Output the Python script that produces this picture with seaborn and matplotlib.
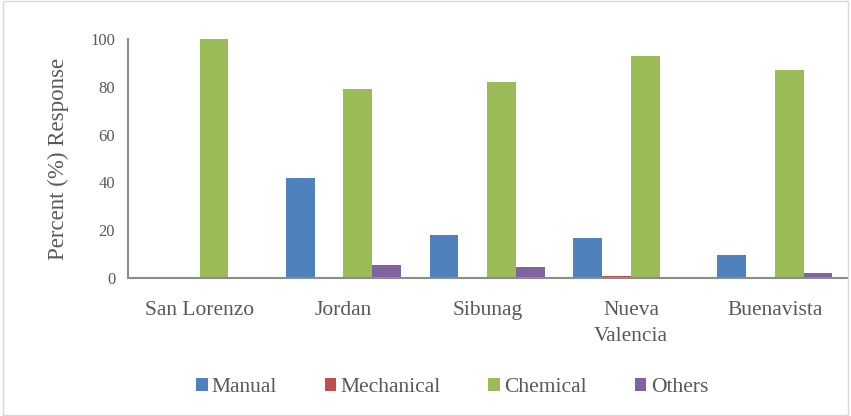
import matplotlib
matplotlib.use("Agg")
import matplotlib.pyplot as plt
import seaborn as sns
import pandas as pd

sites = ["San Lorenzo", "Jordan", "Sibunag", "Nueva\nValencia", "Buenavista"]
methods = ["Manual", "Mechanical", "Chemical", "Others"]
manual = [0, 42, 18, 16.5, 9.5]
mechanical = [0, 0, 0, 0.6, 0]
chemical = [100, 79, 82, 93, 87]
others = [0, 5.5, 4.5, 0, 2]
colors = ["#4F81BD", "#C0504D", "#9BBB59", "#8064A2"]

rows = []
for m, vals in zip(methods, [manual, mechanical, chemical, others]):
    for s, v in zip(sites, vals):
        rows.append({"Site": s, "Method": m, "Value": v})
df = pd.DataFrame(rows)

sns.set_theme(style="white")
plt.rcParams["font.family"] = ["Liberation Serif", "DejaVu Serif"]

fig = plt.figure(figsize=(8.51, 4.16), dpi=100)
ax = fig.add_axes([0.150, 0.332, 0.845, 0.574])
sns.barplot(data=df, x="Site", y="Value", hue="Method", order=sites,
            hue_order=methods, palette=colors, width=0.8, saturation=1,
            linewidth=0, ax=ax, legend=True)

ax.set_ylim(0, 100)
ax.set_yticks([0, 20, 40, 60, 80, 100])
ax.set_xlim(-0.5, len(sites) - 0.5)
ax.set_xlabel("")
ax.set_ylabel("Percent (%) Response", fontsize=16.5, color="#595959")
ax.yaxis.set_label_coords(-0.082, 0.5)
ax.tick_params(axis="y", labelsize=12, colors="#595959", length=0, pad=9)
ax.tick_params(axis="x", labelsize=15.5, colors="#595959", length=0, pad=17)
for lbl in ax.get_xticklabels():
    lbl.set_linespacing(1.5)
for side in ["top", "right"]:
    ax.spines[side].set_visible(False)
for side in ["left", "bottom"]:
    ax.spines[side].set_color("#8c8c8c")
    ax.spines[side].set_linewidth(1.5)

handles, labels = ax.get_legend_handles_labels()
ax.legend_.remove()
fig.legend(handles, labels, loc="center", bbox_to_anchor=(0.531, 0.068),
           ncol=4, frameon=False, fontsize=15.5, handlelength=0.55,
           handleheight=0.55, handletextpad=0.2, columnspacing=2.2,
           labelcolor="#595959")

border = plt.Rectangle((0.003, 0.003), 0.994, 0.994, transform=fig.transFigure,
                       fill=False, edgecolor="#d9d9d9", linewidth=1)
fig.add_artist(border)

fig.savefig("out.png", dpi=100)
